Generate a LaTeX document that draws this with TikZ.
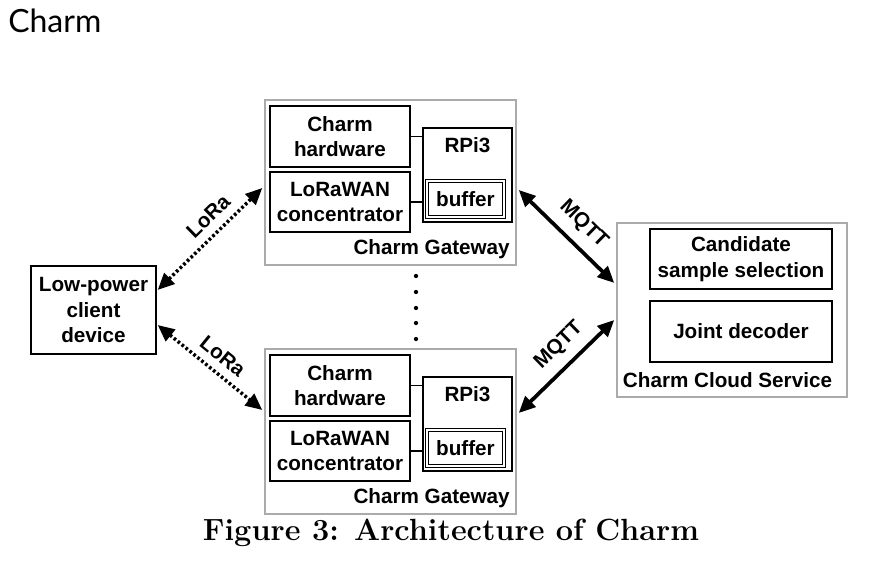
\documentclass[tikz,border=0pt]{standalone}
\usepackage{fontspec}
\newfontfamily\sansfnt{Liberation Sans}
\newfontfamily\titlefnt{Lato}
\usetikzlibrary{arrows.meta,calc,fit}
\newcommand{\lblfont}{\sansfnt\bfseries\fontsize{15.5}{19}\selectfont}
\tikzset{
  blk/.style={draw, line width=1pt, inner sep=0pt},
  grp/.style={draw=black!33, line width=1.1pt, inner sep=0pt},
  lbl/.style={font=\lblfont, inner sep=2pt, align=center},
  dbl/.style={draw, double, double distance=1.1pt, line width=0.75pt, inner sep=0pt},
  lora/.style={{Triangle[length=12.5pt,width=11pt]}-{Triangle[length=12.5pt,width=11pt]}, line width=2.6pt, line cap=butt, dash pattern=on 2pt off 1.8pt},
  mqtt/.style={{Triangle[length=12.5pt,width=11pt]}-{Triangle[length=12.5pt,width=11pt]}, line width=2.8pt},
  link/.style={line width=1pt}
}
\begin{document}
\begin{tikzpicture}[x=0.75pt,y=-0.75pt]
\useasboundingbox (0,0) rectangle (890,566);
\fill[white] (0,0) rectangle (890,566);

\node[anchor=base west, inner sep=0pt, font=\titlefnt\fontsize{24}{28}\selectfont] (title) at (8,33) {Charm};

% gateways
\foreach \o/\n in {0/a,249/b}{
  \node[grp, fit={(265,100+\o) (516,265+\o)}] (gw\n) {};
  \node[blk, fit={(270,106+\o) (410,167+\o)}] (hw\n) {};
  \node[lbl] (hwt\n) at (hw\n.center) {Charm\\hardware};
  \node[blk, fit={(270,172+\o) (410,232+\o)}] (lc\n) {};
  \node[lbl] (lct\n) at (lc\n.center) {LoRaWAN\\concentrator};
  \node[blk, fit={(423,128+\o) (512,222+\o)}] (rpi\n) {};
  \node[lbl] (rpil\n) at (467.5,145+\o) {RPi3};
  \node[dbl, fit={(427,181+\o) (504,217+\o)}] (buf\n) {};
  \node[lbl] (buft\n) at (buf\n.center) {buffer};
  \node[lbl, anchor=base east, inner sep=0pt] (gwl\n) at (510,255+\o) {Charm Gateway};
  \draw[link] (hw\n.east) -- (hw\n.east -| rpi\n.west);
  \draw[link] (lc\n.east) -- (lc\n.east -| rpi\n.west);
}

% dots
\foreach \y in {276,292,308,323,339} \fill (416,\y) circle (1.6pt);

% client
\node[blk, fit={(31,266) (156,354)}] (client) {};
\node[lbl] (clientt) at (client.center) {Low-power\\client\\device};

% cloud
\node[grp, fit={(617,223) (847,397)}] (cloud) {};
\node[blk, fit={(650,229) (832,289)}] (cand) {};
\node[lbl] (candt) at (cand.center) {Candidate\\sample selection};
\node[blk, fit={(650,301) (832,362)}] (joint) {};
\node[lbl] (jointt) at (joint.center) {Joint decoder};
\node[lbl, anchor=base, inner sep=0pt] (cloudl) at (727.5,388) {Charm Cloud Service};

% LoRa links
\draw[lora] ($(client.east)+(1,-20)$) -- node[lbl, pos=0.6, sloped, above=4.5pt] (lora1) {LoRa} ($(gwa.west)+(-2,5.5)$);
\draw[lora] ($(client.east)+(1,15)$) -- node[lbl, pos=0.52, sloped, above=4pt] (lora2) {LoRa} ($(gwb.west)+(-2,-21.5)$);

% MQTT links
\draw[mqtt] ($(gwa.east)+(2,7.5)$) -- node[lbl, pos=0.53, sloped, above=5pt] (mq1) {MQTT} ($(cloud.west)+(-2,-27)$);
\draw[mqtt] ($(gwb.east)+(2,-18.5)$) -- node[lbl, pos=0.57, sloped, above=5pt] (mq2) {MQTT} ($(cloud.west)+(-2,10)$);

% caption
\node[anchor=base, inner sep=0pt, font=\bfseries\fontsize{23}{27}\selectfont] (cap) at (451,541) {Figure 3: Architecture of Charm};
\end{tikzpicture}
\end{document}
